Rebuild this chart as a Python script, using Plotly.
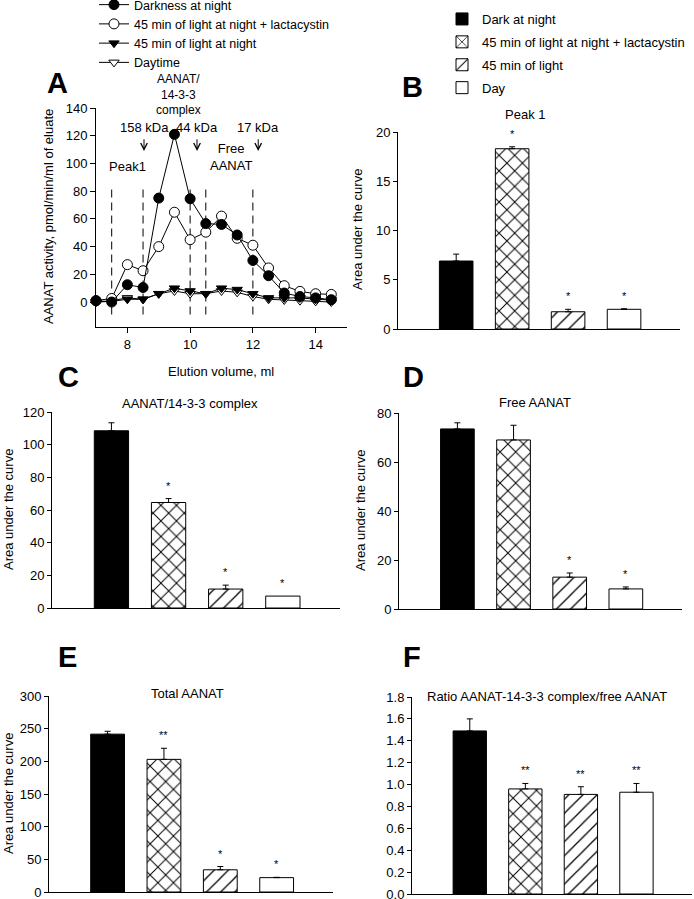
import plotly.graph_objects as go

W, H = 694, 899
FONT = "Liberation Sans, Arial, sans-serif"

# ---------------- Panel A data (elution profile) ----------------
elution_ml = [7.0, 7.5, 8.0, 8.5, 9.0, 9.5, 10.0, 10.5, 11.0, 11.5, 12.0, 12.5, 13.0, 13.5, 14.0, 14.5]
darkness = [1, 0, 12.5, 10.5, 75, 121, 74.5, 56.6, 56, 48.4, 30, 19, 6.5, 4, 3, 1.7]
lactacystin = [1, 2.6, 27, 22.6, 40, 64.8, 45, 50.4, 62, 46, 41, 24.6, 11.8, 7.7, 6, 5.5]
light45 = [0, 0.5, 2, 2, 6, 10, 8, 6, 10, 9, 6, 3, 3, 3, 2, 1.5]
daytime = [0, 1, 3, 2, 6, 8, 6, 6, 8, 7, 4, 2, 1.5, 1, 0.5, 0]
fraction_bounds = [7.5, 8.5, 10.0, 10.5, 12.0]
marker_kda = ["158 kDa", "44 kDa", "17 kDa"]
marker_ml = [8.53, 10.22, 12.17]

line_names = ["Darkness at night", "45 min of light at night + lactacystin",
              "45 min of light at night", "Daytime"]

# ---------------- Bar panels data ----------------
groups = ["Dark at night", "45 min of light at night + lactacystin", "45 min of light", "Day"]
peak1_mean = [6.9, 18.3, 1.75, 2.0]
peak1_sem = [0.7, 0.2, 0.25, 0.05]
peak1_sig = ["", "*", "*", "*"]
complex_mean = [108.5, 64.6, 11.6, 7.3]
complex_sem = [4.9, 2.4, 2.4, 0.0]
complex_sig = ["", "*", "*", "*"]
free_mean = [73.5, 69.0, 13.0, 8.2]
free_sem = [2.5, 6.0, 1.7, 0.8]
free_sig = ["", "", "*", "*"]
total_mean = [241.6, 203.0, 34.0, 22.0]
total_sem = [4.4, 17.0, 5.0, 0.5]
total_sig = ["", "**", "*", "*"]
ratio_mean = [1.49, 0.96, 0.91, 0.93]
ratio_sem = [0.11, 0.05, 0.07, 0.08]
ratio_sig = ["", "**", "**", "**"]


def px(x):
    return x / W


def py(y):
    return 1 - y / H


fig = go.Figure()

# ---------------- Panel A traces ----------------
line_styles = [
    dict(symbol="circle", filled=True),
    dict(symbol="circle", filled=False),
    dict(symbol="triangle-down", filled=True),
    dict(symbol="triangle-down", filled=False),
]
series = [darkness, lactacystin, light45, daytime]
draw_order = [3, 2, 1, 0]
for i in draw_order:
    st = line_styles[i]
    fig.add_trace(go.Scatter(
        x=elution_ml, y=series[i], mode="lines+markers", name=line_names[i],
        legend="legend", legendrank=i + 1,
        line=dict(color="black", width=1),
        marker=dict(symbol=st["symbol"], size=10 if i < 2 else 9,
                    color="black" if st["filled"] else "white",
                    line=dict(color="black", width=1)),
        xaxis="x", yaxis="y", cliponaxis=False,
    ))

# ---------------- Bar panels ----------------
bar_styles = [
    dict(color="black", pattern=dict(shape="")),
    dict(color="white", pattern=dict(shape="x", fgcolor="black", bgcolor="white", fgopacity=1,
                                     size=11, solidity=0.17)),
    dict(color="white", pattern=dict(shape="/", fgcolor="black", bgcolor="white", fgopacity=1,
                                     size=10, solidity=0.13)),
    dict(color="white", pattern=dict(shape="")),
]

panels = [
    ("2", peak1_mean, peak1_sem, peak1_sig),
    ("3", complex_mean, complex_sem, complex_sig),
    ("4", free_mean, free_sem, free_sig),
    ("5", total_mean, total_sem, total_sig),
    ("6", ratio_mean, ratio_sem, ratio_sig),
]

annotations = []
for p_idx, (ax, means, sems, sigs) in enumerate(panels):
    for g in range(4):
        st = bar_styles[g]
        fig.add_trace(go.Bar(
            x=[groups[g]], y=[means[g]], name=groups[g], width=0.6,
            legend="legend2", showlegend=(p_idx == 0), legendgroup=groups[g],
            marker=dict(color=st["color"], pattern=st["pattern"],
                        line=dict(color="black", width=1)),
            error_y=dict(type="data", symmetric=False, array=[sems[g]], arrayminus=[0],
                         color="black", thickness=1, width=3, visible=sems[g] > 0),
            xaxis="x" + ax, yaxis="y" + ax,
        ))
        if sigs[g]:
            annotations.append(dict(
                x=groups[g], y=means[g] + sems[g], xref="x" + ax, yref="y" + ax,
                text=sigs[g], showarrow=False, yanchor="middle", yshift=13,
                font=dict(size=11, family=FONT, color="black"),
            ))

# ---------------- Panel A annotations ----------------
for xv in fraction_bounds:
    fig.add_shape(type="line", xref="x", yref="y", x0=xv, x1=xv, y0=-9, y1=84,
                  line=dict(color="black", width=1, dash="8px,5px"), layer="below")

for lab, xv in zip(marker_kda, marker_ml):
    annotations.append(dict(x=xv, y=126, xref="x", yref="y", text=lab, showarrow=False,
                            font=dict(size=13, family=FONT, color="black")))
    annotations.append(dict(x=xv, y=109, ax=xv, ay=118.5, xref="x", yref="y",
                            axref="x", ayref="y", text="", showarrow=True,
                            arrowhead=5, arrowsize=1.3, arrowwidth=1, arrowcolor="black"))

annotations += [
    dict(x=8.0, y=97.5, xref="x", yref="y", text="Peak1", showarrow=False,
         font=dict(size=13, family=FONT, color="black")),
    dict(x=11.3, y=105, xref="x", yref="y", text="Free<br>AANAT", showarrow=False,
         font=dict(size=13, family=FONT, color="black")),
]


def ptext(x, y, text, size=13, angle=0, bold=False):
    return dict(x=px(x), y=py(y), xref="paper", yref="paper",
                text=("<b>%s</b>" % text) if bold else text,
                showarrow=False, textangle=angle, xanchor="center", yanchor="middle",
                font=dict(size=size, family=FONT, color="black"))


annotations += [
    ptext(178, 94, "AANAT/<br>14-3-3<br>complex", size=12),
    ptext(48, 217, "AANAT activity, pmol/min/ml of eluate", angle=-90),
    ptext(221, 371, "Elution volume, ml"),
    ptext(357, 230, "Area under the curve", angle=-90),
    ptext(8, 510, "Area under the curve", angle=-90),
    ptext(361, 511, "Area under the curve", angle=-90),
    ptext(8, 794, "Area under the curve", angle=-90),
    ptext(525, 115, "Peak 1"),
    ptext(190, 404, "AANAT/14-3-3 complex"),
    ptext(535, 402, "Free AANAT"),
    ptext(187, 693, "Total AANAT"),
    ptext(547, 696, "Ratio AANAT-14-3-3 complex/free AANAT"),
    ptext(57, 83, "A", size=29, bold=True),
    ptext(412, 87, "B", size=29, bold=True),
    ptext(68, 377, "C", size=29, bold=True),
    ptext(413, 377, "D", size=29, bold=True),
    ptext(67, 657, "E", size=29, bold=True),
    ptext(412, 657, "F", size=29, bold=True),
]

axis_common = dict(showline=True, linecolor="black", linewidth=1, showgrid=False, zeroline=False,
                   tickfont=dict(size=13, family=FONT, color="black"), automargin=False,
                   ticklabeloverflow="allow")


def xdom(a, b):
    return [px(a), px(b)]


def ydom(top, bottom):
    return [py(bottom), py(top)]


bar_x = dict(axis_common, showticklabels=False, ticks="", range=[-1.04, 4.0], type="category")
bar_y = dict(axis_common, ticks="outside", ticklen=4, tickcolor="black")

fig.update_layout(
    width=W, height=H, margin=dict(l=0, r=0, t=0, b=0, autoexpand=False),
    paper_bgcolor="white", plot_bgcolor="white",
    barmode="overlay", showlegend=True,
    font=dict(family=FONT, size=13, color="black"),
    xaxis=dict(axis_common, domain=xdom(96, 347), range=[7, 15], tickvals=[8, 10, 12, 14],
               ticks="outside", ticklen=5, tickcolor="black", anchor="y"),
    yaxis=dict(axis_common, domain=ydom(108, 327), range=[-18, 140], tickvals=list(range(0, 141, 20)),
               ticks="outside", ticklen=5, tickcolor="black", anchor="x"),
    xaxis2=dict(bar_x, domain=xdom(398, 680), anchor="y2"),
    yaxis2=dict(bar_y, domain=ydom(132, 329), range=[0, 20], dtick=5, anchor="x2"),
    xaxis3=dict(bar_x, domain=xdom(52, 340), anchor="y3"),
    yaxis3=dict(bar_y, domain=ydom(412, 608), range=[0, 120], dtick=20, anchor="x3"),
    xaxis4=dict(bar_x, domain=xdom(399, 682), anchor="y4"),
    yaxis4=dict(bar_y, domain=ydom(413, 609), range=[0, 80], dtick=20, anchor="x4"),
    xaxis5=dict(bar_x, domain=xdom(49, 333), anchor="y5"),
    yaxis5=dict(bar_y, domain=ydom(696, 892), range=[0, 300], dtick=50, anchor="x5"),
    xaxis6=dict(bar_x, domain=xdom(412, 692), anchor="y6"),
    yaxis6=dict(bar_y, domain=ydom(697, 894), range=[0, 1.8], dtick=0.2, tickformat=".1f", anchor="x6"),
    legend=dict(x=px(94), y=py(-10), xanchor="left", yanchor="top", bgcolor="rgba(0,0,0,0)",
                font=dict(size=12.5, family=FONT, color="black"), itemwidth=30,
                traceorder="normal", tracegroupgap=0),
    legend2=dict(x=px(442), y=py(4), xanchor="left", yanchor="top", bgcolor="rgba(0,0,0,0)",
                 font=dict(size=13, family=FONT, color="black"), itemwidth=30,
                 traceorder="grouped", tracegroupgap=3),
    annotations=annotations,
)

fig.write_html("out.html", config={"displayModeBar": False},
               post_script="document.body.style.margin='0';document.body.style.padding='0';")
